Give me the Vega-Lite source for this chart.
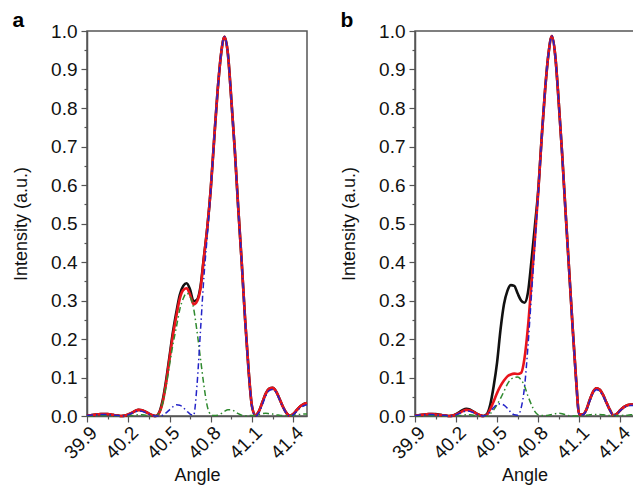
{
 "$schema": "https://vega.github.io/schema/vega-lite/v6.json",
 "background": "white",
 "padding": {"left": 11, "top": 9, "right": 2, "bottom": 2},
 "spacing": 26,
 "config": {
  "font": "Liberation Sans",
  "view": {"stroke": "#555", "strokeWidth": 1.5},
  "axis": {"domainColor": "#555", "domainWidth": 1.5, "tickColor": "#555", "tickWidth": 1.2, "labelFontSize": 19, "titleFontSize": 18, "titleFontWeight": "normal", "labelColor": "#111", "titleColor": "#111", "grid": false, "labelOverlap": false, "labelFlush": false},
  "title": {"fontSize": 21, "fontWeight": "bold", "anchor": "start", "frame": "bounds", "offset": -9, "color": "#000"}
 },
 "datasets": {
  "a": [
   {"x":39.900,"k":0.001,"r":0.001,"g":0.000,"b":0.001},
   {"x":39.925,"k":0.002,"r":0.002,"g":0.000,"b":0.002},
   {"x":39.950,"k":0.003,"r":0.003,"g":0.000,"b":0.003},
   {"x":39.975,"k":0.004,"r":0.004,"g":0.001,"b":0.003},
   {"x":40.000,"k":0.005,"r":0.005,"g":0.001,"b":0.004},
   {"x":40.025,"k":0.005,"r":0.005,"g":0.001,"b":0.004},
   {"x":40.050,"k":0.005,"r":0.005,"g":0.001,"b":0.004},
   {"x":40.075,"k":0.004,"r":0.004,"g":0.001,"b":0.003},
   {"x":40.100,"k":0.002,"r":0.002,"g":0.000,"b":0.002},
   {"x":40.125,"k":0.001,"r":0.001,"g":0.000,"b":0.001},
   {"x":40.150,"k":0.000,"r":0.000,"g":0.000,"b":0.000},
   {"x":40.175,"k":0.001,"r":0.001,"g":0.000,"b":0.001},
   {"x":40.200,"k":0.004,"r":0.004,"g":0.001,"b":0.003},
   {"x":40.225,"k":0.008,"r":0.008,"g":0.001,"b":0.007},
   {"x":40.250,"k":0.013,"r":0.013,"g":0.002,"b":0.011},
   {"x":40.275,"k":0.016,"r":0.016,"g":0.003,"b":0.013},
   {"x":40.300,"k":0.015,"r":0.015,"g":0.003,"b":0.012},
   {"x":40.325,"k":0.011,"r":0.011,"g":0.002,"b":0.009},
   {"x":40.350,"k":0.006,"r":0.006,"g":0.001,"b":0.005},
   {"x":40.375,"k":0.002,"r":0.002,"g":0.000,"b":0.002},
   {"x":40.400,"k":0.000,"r":0.000,"g":0.000,"b":0.000},
   {"x":40.425,"k":0.009,"r":0.008,"g":0.008,"b":0.000},
   {"x":40.450,"k":0.040,"r":0.035,"g":0.033,"b":0.002},
   {"x":40.475,"k":0.092,"r":0.085,"g":0.077,"b":0.008},
   {"x":40.500,"k":0.155,"r":0.148,"g":0.132,"b":0.016},
   {"x":40.525,"k":0.218,"r":0.210,"g":0.186,"b":0.024},
   {"x":40.550,"k":0.270,"r":0.260,"g":0.231,"b":0.029},
   {"x":40.575,"k":0.315,"r":0.305,"g":0.277,"b":0.028},
   {"x":40.600,"k":0.338,"r":0.327,"g":0.305,"b":0.022},
   {"x":40.625,"k":0.345,"r":0.332,"g":0.319,"b":0.013},
   {"x":40.650,"k":0.328,"r":0.315,"g":0.310,"b":0.005},
   {"x":40.675,"k":0.298,"r":0.290,"g":0.280,"b":0.002},
   {"x":40.700,"k":0.302,"r":0.298,"g":0.220,"b":0.080},
   {"x":40.725,"k":0.335,"r":0.330,"g":0.150,"b":0.220},
   {"x":40.750,"k":0.412,"r":0.410,"g":0.080,"b":0.360},
   {"x":40.775,"k":0.490,"r":0.490,"g":0.025,"b":0.470},
   {"x":40.800,"k":0.590,"r":0.590,"g":0.004,"b":0.588},
   {"x":40.825,"k":0.720,"r":0.720,"g":0.001,"b":0.720},
   {"x":40.850,"k":0.845,"r":0.845,"g":0.002,"b":0.845},
   {"x":40.875,"k":0.940,"r":0.940,"g":0.006,"b":0.940},
   {"x":40.900,"k":0.985,"r":0.985,"g":0.012,"b":0.985},
   {"x":40.925,"k":0.940,"r":0.940,"g":0.016,"b":0.940},
   {"x":40.950,"k":0.820,"r":0.820,"g":0.016,"b":0.820},
   {"x":40.975,"k":0.690,"r":0.690,"g":0.012,"b":0.690},
   {"x":41.000,"k":0.540,"r":0.540,"g":0.006,"b":0.540},
   {"x":41.025,"k":0.400,"r":0.400,"g":0.002,"b":0.400},
   {"x":41.050,"k":0.250,"r":0.250,"g":0.000,"b":0.250},
   {"x":41.075,"k":0.120,"r":0.120,"g":0.001,"b":0.119},
   {"x":41.100,"k":0.025,"r":0.025,"g":0.001,"b":0.024},
   {"x":41.125,"k":0.002,"r":0.002,"g":0.002,"b":0.000},
   {"x":41.150,"k":0.012,"r":0.012,"g":0.004,"b":0.008},
   {"x":41.175,"k":0.035,"r":0.035,"g":0.006,"b":0.029},
   {"x":41.200,"k":0.058,"r":0.058,"g":0.007,"b":0.052},
   {"x":41.225,"k":0.071,"r":0.071,"g":0.006,"b":0.066},
   {"x":41.250,"k":0.073,"r":0.073,"g":0.005,"b":0.069},
   {"x":41.275,"k":0.064,"r":0.064,"g":0.003,"b":0.061},
   {"x":41.300,"k":0.045,"r":0.045,"g":0.002,"b":0.043},
   {"x":41.325,"k":0.024,"r":0.024,"g":0.001,"b":0.023},
   {"x":41.350,"k":0.008,"r":0.008,"g":0.001,"b":0.007},
   {"x":41.375,"k":0.001,"r":0.001,"g":0.001,"b":0.000},
   {"x":41.400,"k":0.005,"r":0.005,"g":0.002,"b":0.003},
   {"x":41.425,"k":0.015,"r":0.015,"g":0.003,"b":0.012},
   {"x":41.450,"k":0.025,"r":0.025,"g":0.004,"b":0.021},
   {"x":41.475,"k":0.031,"r":0.031,"g":0.005,"b":0.026},
   {"x":41.500,"k":0.034,"r":0.034,"g":0.005,"b":0.029}
  ],
  "b": [
   {"x":39.900,"k":0.001,"r":0.001,"g":0.000,"b":0.001},
   {"x":39.925,"k":0.002,"r":0.002,"g":0.000,"b":0.002},
   {"x":39.950,"k":0.003,"r":0.003,"g":0.000,"b":0.003},
   {"x":39.975,"k":0.004,"r":0.004,"g":0.001,"b":0.003},
   {"x":40.000,"k":0.005,"r":0.005,"g":0.001,"b":0.004},
   {"x":40.025,"k":0.005,"r":0.005,"g":0.001,"b":0.004},
   {"x":40.050,"k":0.005,"r":0.004,"g":0.001,"b":0.003},
   {"x":40.075,"k":0.004,"r":0.003,"g":0.001,"b":0.002},
   {"x":40.100,"k":0.002,"r":0.002,"g":0.000,"b":0.002},
   {"x":40.125,"k":0.001,"r":0.001,"g":0.000,"b":0.001},
   {"x":40.150,"k":0.000,"r":0.000,"g":0.000,"b":0.000},
   {"x":40.175,"k":0.001,"r":0.001,"g":0.000,"b":0.001},
   {"x":40.200,"k":0.005,"r":0.004,"g":0.001,"b":0.003},
   {"x":40.225,"k":0.010,"r":0.008,"g":0.001,"b":0.007},
   {"x":40.250,"k":0.016,"r":0.013,"g":0.002,"b":0.011},
   {"x":40.275,"k":0.019,"r":0.016,"g":0.003,"b":0.013},
   {"x":40.300,"k":0.017,"r":0.015,"g":0.003,"b":0.012},
   {"x":40.325,"k":0.012,"r":0.011,"g":0.002,"b":0.009},
   {"x":40.350,"k":0.006,"r":0.006,"g":0.001,"b":0.005},
   {"x":40.375,"k":0.002,"r":0.002,"g":0.000,"b":0.002},
   {"x":40.400,"k":0.000,"r":0.000,"g":0.000,"b":0.000},
   {"x":40.425,"k":0.005,"r":0.003,"g":0.000,"b":0.003},
   {"x":40.450,"k":0.030,"r":0.018,"g":0.006,"b":0.012},
   {"x":40.475,"k":0.078,"r":0.038,"g":0.016,"b":0.022},
   {"x":40.500,"k":0.140,"r":0.060,"g":0.030,"b":0.030},
   {"x":40.525,"k":0.225,"r":0.078,"g":0.046,"b":0.032},
   {"x":40.550,"k":0.290,"r":0.092,"g":0.064,"b":0.028},
   {"x":40.575,"k":0.325,"r":0.103,"g":0.083,"b":0.020},
   {"x":40.600,"k":0.340,"r":0.108,"g":0.095,"b":0.010},
   {"x":40.625,"k":0.338,"r":0.110,"g":0.100,"b":0.003},
   {"x":40.650,"k":0.318,"r":0.109,"g":0.101,"b":0.002},
   {"x":40.675,"k":0.300,"r":0.112,"g":0.094,"b":0.020},
   {"x":40.700,"k":0.294,"r":0.150,"g":0.078,"b":0.075},
   {"x":40.725,"k":0.320,"r":0.230,"g":0.052,"b":0.180},
   {"x":40.750,"k":0.400,"r":0.340,"g":0.030,"b":0.310},
   {"x":40.775,"k":0.490,"r":0.455,"g":0.012,"b":0.440},
   {"x":40.800,"k":0.585,"r":0.580,"g":0.003,"b":0.575},
   {"x":40.825,"k":0.720,"r":0.720,"g":0.001,"b":0.718},
   {"x":40.850,"k":0.845,"r":0.845,"g":0.001,"b":0.845},
   {"x":40.875,"k":0.940,"r":0.940,"g":0.002,"b":0.940},
   {"x":40.900,"k":0.987,"r":0.987,"g":0.004,"b":0.987},
   {"x":40.925,"k":0.935,"r":0.935,"g":0.006,"b":0.935},
   {"x":40.950,"k":0.815,"r":0.815,"g":0.007,"b":0.815},
   {"x":40.975,"k":0.680,"r":0.680,"g":0.006,"b":0.680},
   {"x":41.000,"k":0.530,"r":0.530,"g":0.003,"b":0.530},
   {"x":41.025,"k":0.385,"r":0.385,"g":0.001,"b":0.385},
   {"x":41.050,"k":0.240,"r":0.240,"g":0.000,"b":0.240},
   {"x":41.075,"k":0.105,"r":0.105,"g":0.000,"b":0.105},
   {"x":41.100,"k":0.004,"r":0.004,"g":0.000,"b":0.004},
   {"x":41.125,"k":0.004,"r":0.004,"g":0.001,"b":0.003},
   {"x":41.150,"k":0.015,"r":0.015,"g":0.002,"b":0.013},
   {"x":41.175,"k":0.040,"r":0.040,"g":0.003,"b":0.037},
   {"x":41.200,"k":0.062,"r":0.062,"g":0.004,"b":0.058},
   {"x":41.225,"k":0.072,"r":0.072,"g":0.004,"b":0.068},
   {"x":41.250,"k":0.068,"r":0.068,"g":0.004,"b":0.064},
   {"x":41.275,"k":0.054,"r":0.054,"g":0.003,"b":0.051},
   {"x":41.300,"k":0.034,"r":0.034,"g":0.002,"b":0.032},
   {"x":41.325,"k":0.015,"r":0.015,"g":0.001,"b":0.014},
   {"x":41.350,"k":0.002,"r":0.002,"g":0.001,"b":0.001},
   {"x":41.375,"k":0.006,"r":0.006,"g":0.001,"b":0.005},
   {"x":41.400,"k":0.015,"r":0.015,"g":0.001,"b":0.014},
   {"x":41.425,"k":0.023,"r":0.023,"g":0.002,"b":0.021},
   {"x":41.450,"k":0.028,"r":0.028,"g":0.002,"b":0.026},
   {"x":41.475,"k":0.030,"r":0.030,"g":0.003,"b":0.027},
   {"x":41.500,"k":0.030,"r":0.030,"g":0.003,"b":0.027}
  ]
 },
 "hconcat": [
  {
   "title": "a",
   "width": 220, "height": 385,
   "data": {"name": "a"},
   "encoding": {
    "x": {"field": "x", "type": "quantitative", "title": "Angle",
     "scale": {"domain": [39.9, 41.5], "nice": false, "zero": false},
     "axis": {"values": [39.9, 40.05, 40.2, 40.35, 40.5, 40.65, 40.8, 40.95, 41.1, 41.25, 41.4], "labelAngle": -45, "labelPadding": 1, "titlePadding": 4,
      "labelExpr": "abs(datum.value*10 - round(datum.value*10)) < 0.01 ? format(datum.value, '.1f') : ''",
      "tickSize": {"condition": {"test": "abs(datum.value*10 - round(datum.value*10)) < 0.01", "value": 6}, "value": 3}}}
   },
   "layer": [
    {"mark": {"type": "line", "color": "#111111", "strokeWidth": 2.6, "interpolate": "monotone"},
     "encoding": {"y": {"field": "k", "type": "quantitative", "title": "Intensity (a.u.)", "scale": {"domain": [0, 1], "nice": false},
      "axis": {"values": [0,0.05,0.1,0.15,0.2,0.25,0.3,0.35,0.4,0.45,0.5,0.55,0.6,0.65,0.7,0.75,0.8,0.85,0.9,0.95,1.0], "labelPadding": 4, "titlePadding": 20,
       "labelExpr": "abs(datum.value*10 - round(datum.value*10)) < 0.01 ? format(datum.value, '.1f') : ''",
       "tickSize": {"condition": {"test": "abs(datum.value*10 - round(datum.value*10)) < 0.01", "value": 6}, "value": 3}}}}},
    {"mark": {"type": "line", "color": "#e8141c", "strokeWidth": 2.6, "interpolate": "monotone"},
     "encoding": {"y": {"field": "r", "type": "quantitative", "title": "Intensity (a.u.)",
      "axis": {"values": [0,0.05,0.1,0.15,0.2,0.25,0.3,0.35,0.4,0.45,0.5,0.55,0.6,0.65,0.7,0.75,0.8,0.85,0.9,0.95,1.0], "labelPadding": 4, "titlePadding": 20,
       "labelExpr": "abs(datum.value*10 - round(datum.value*10)) < 0.01 ? format(datum.value, '.1f') : ''",
       "tickSize": {"condition": {"test": "abs(datum.value*10 - round(datum.value*10)) < 0.01", "value": 6}, "value": 3}}}}},
    {"mark": {"type": "line", "color": "#2f8a2f", "strokeWidth": 1.5, "strokeDash": [6, 3, 1.5, 3], "interpolate": "monotone"},
     "encoding": {"y": {"field": "g", "type": "quantitative", "title": "Intensity (a.u.)",
      "axis": {"values": [0,0.05,0.1,0.15,0.2,0.25,0.3,0.35,0.4,0.45,0.5,0.55,0.6,0.65,0.7,0.75,0.8,0.85,0.9,0.95,1.0], "labelPadding": 4, "titlePadding": 20,
       "labelExpr": "abs(datum.value*10 - round(datum.value*10)) < 0.01 ? format(datum.value, '.1f') : ''",
       "tickSize": {"condition": {"test": "abs(datum.value*10 - round(datum.value*10)) < 0.01", "value": 6}, "value": 3}}}}},
    {"mark": {"type": "line", "color": "#2323c8", "strokeWidth": 1.5, "strokeDash": [6, 3, 1.5, 3], "interpolate": "monotone"},
     "encoding": {"y": {"field": "b", "type": "quantitative", "title": "Intensity (a.u.)",
      "axis": {"values": [0,0.05,0.1,0.15,0.2,0.25,0.3,0.35,0.4,0.45,0.5,0.55,0.6,0.65,0.7,0.75,0.8,0.85,0.9,0.95,1.0], "labelPadding": 4, "titlePadding": 20,
       "labelExpr": "abs(datum.value*10 - round(datum.value*10)) < 0.01 ? format(datum.value, '.1f') : ''",
       "tickSize": {"condition": {"test": "abs(datum.value*10 - round(datum.value*10)) < 0.01", "value": 6}, "value": 3}}}}}
   ]
  },
  {
   "title": "b",
   "width": 219, "height": 385,
   "data": {"name": "b"},
   "encoding": {
    "x": {"field": "x", "type": "quantitative", "title": "Angle",
     "scale": {"domain": [39.9, 41.5], "nice": false, "zero": false},
     "axis": {"values": [39.9, 40.05, 40.2, 40.35, 40.5, 40.65, 40.8, 40.95, 41.1, 41.25, 41.4], "labelAngle": -45, "labelPadding": 1, "titlePadding": 4,
      "labelExpr": "abs(datum.value*10 - round(datum.value*10)) < 0.01 ? format(datum.value, '.1f') : ''",
      "tickSize": {"condition": {"test": "abs(datum.value*10 - round(datum.value*10)) < 0.01", "value": 6}, "value": 3}}}
   },
   "layer": [
    {"mark": {"type": "line", "color": "#111111", "strokeWidth": 2.6, "interpolate": "monotone"},
     "encoding": {"y": {"field": "k", "type": "quantitative", "title": "Intensity (a.u.)", "scale": {"domain": [0, 1], "nice": false},
      "axis": {"values": [0,0.05,0.1,0.15,0.2,0.25,0.3,0.35,0.4,0.45,0.5,0.55,0.6,0.65,0.7,0.75,0.8,0.85,0.9,0.95,1.0], "labelPadding": 4, "titlePadding": 20,
       "labelExpr": "abs(datum.value*10 - round(datum.value*10)) < 0.01 ? format(datum.value, '.1f') : ''",
       "tickSize": {"condition": {"test": "abs(datum.value*10 - round(datum.value*10)) < 0.01", "value": 6}, "value": 3}}}}},
    {"mark": {"type": "line", "color": "#e8141c", "strokeWidth": 2.6, "interpolate": "monotone"},
     "encoding": {"y": {"field": "r", "type": "quantitative", "title": "Intensity (a.u.)",
      "axis": {"values": [0,0.05,0.1,0.15,0.2,0.25,0.3,0.35,0.4,0.45,0.5,0.55,0.6,0.65,0.7,0.75,0.8,0.85,0.9,0.95,1.0], "labelPadding": 4, "titlePadding": 20,
       "labelExpr": "abs(datum.value*10 - round(datum.value*10)) < 0.01 ? format(datum.value, '.1f') : ''",
       "tickSize": {"condition": {"test": "abs(datum.value*10 - round(datum.value*10)) < 0.01", "value": 6}, "value": 3}}}}},
    {"mark": {"type": "line", "color": "#2f8a2f", "strokeWidth": 1.5, "strokeDash": [6, 3, 1.5, 3], "interpolate": "monotone"},
     "encoding": {"y": {"field": "g", "type": "quantitative", "title": "Intensity (a.u.)",
      "axis": {"values": [0,0.05,0.1,0.15,0.2,0.25,0.3,0.35,0.4,0.45,0.5,0.55,0.6,0.65,0.7,0.75,0.8,0.85,0.9,0.95,1.0], "labelPadding": 4, "titlePadding": 20,
       "labelExpr": "abs(datum.value*10 - round(datum.value*10)) < 0.01 ? format(datum.value, '.1f') : ''",
       "tickSize": {"condition": {"test": "abs(datum.value*10 - round(datum.value*10)) < 0.01", "value": 6}, "value": 3}}}}},
    {"mark": {"type": "line", "color": "#2323c8", "strokeWidth": 1.5, "strokeDash": [6, 3, 1.5, 3], "interpolate": "monotone"},
     "encoding": {"y": {"field": "b", "type": "quantitative", "title": "Intensity (a.u.)",
      "axis": {"values": [0,0.05,0.1,0.15,0.2,0.25,0.3,0.35,0.4,0.45,0.5,0.55,0.6,0.65,0.7,0.75,0.8,0.85,0.9,0.95,1.0], "labelPadding": 4, "titlePadding": 20,
       "labelExpr": "abs(datum.value*10 - round(datum.value*10)) < 0.01 ? format(datum.value, '.1f') : ''",
       "tickSize": {"condition": {"test": "abs(datum.value*10 - round(datum.value*10)) < 0.01", "value": 6}, "value": 3}}}}}
   ]
  }
 ]
}
